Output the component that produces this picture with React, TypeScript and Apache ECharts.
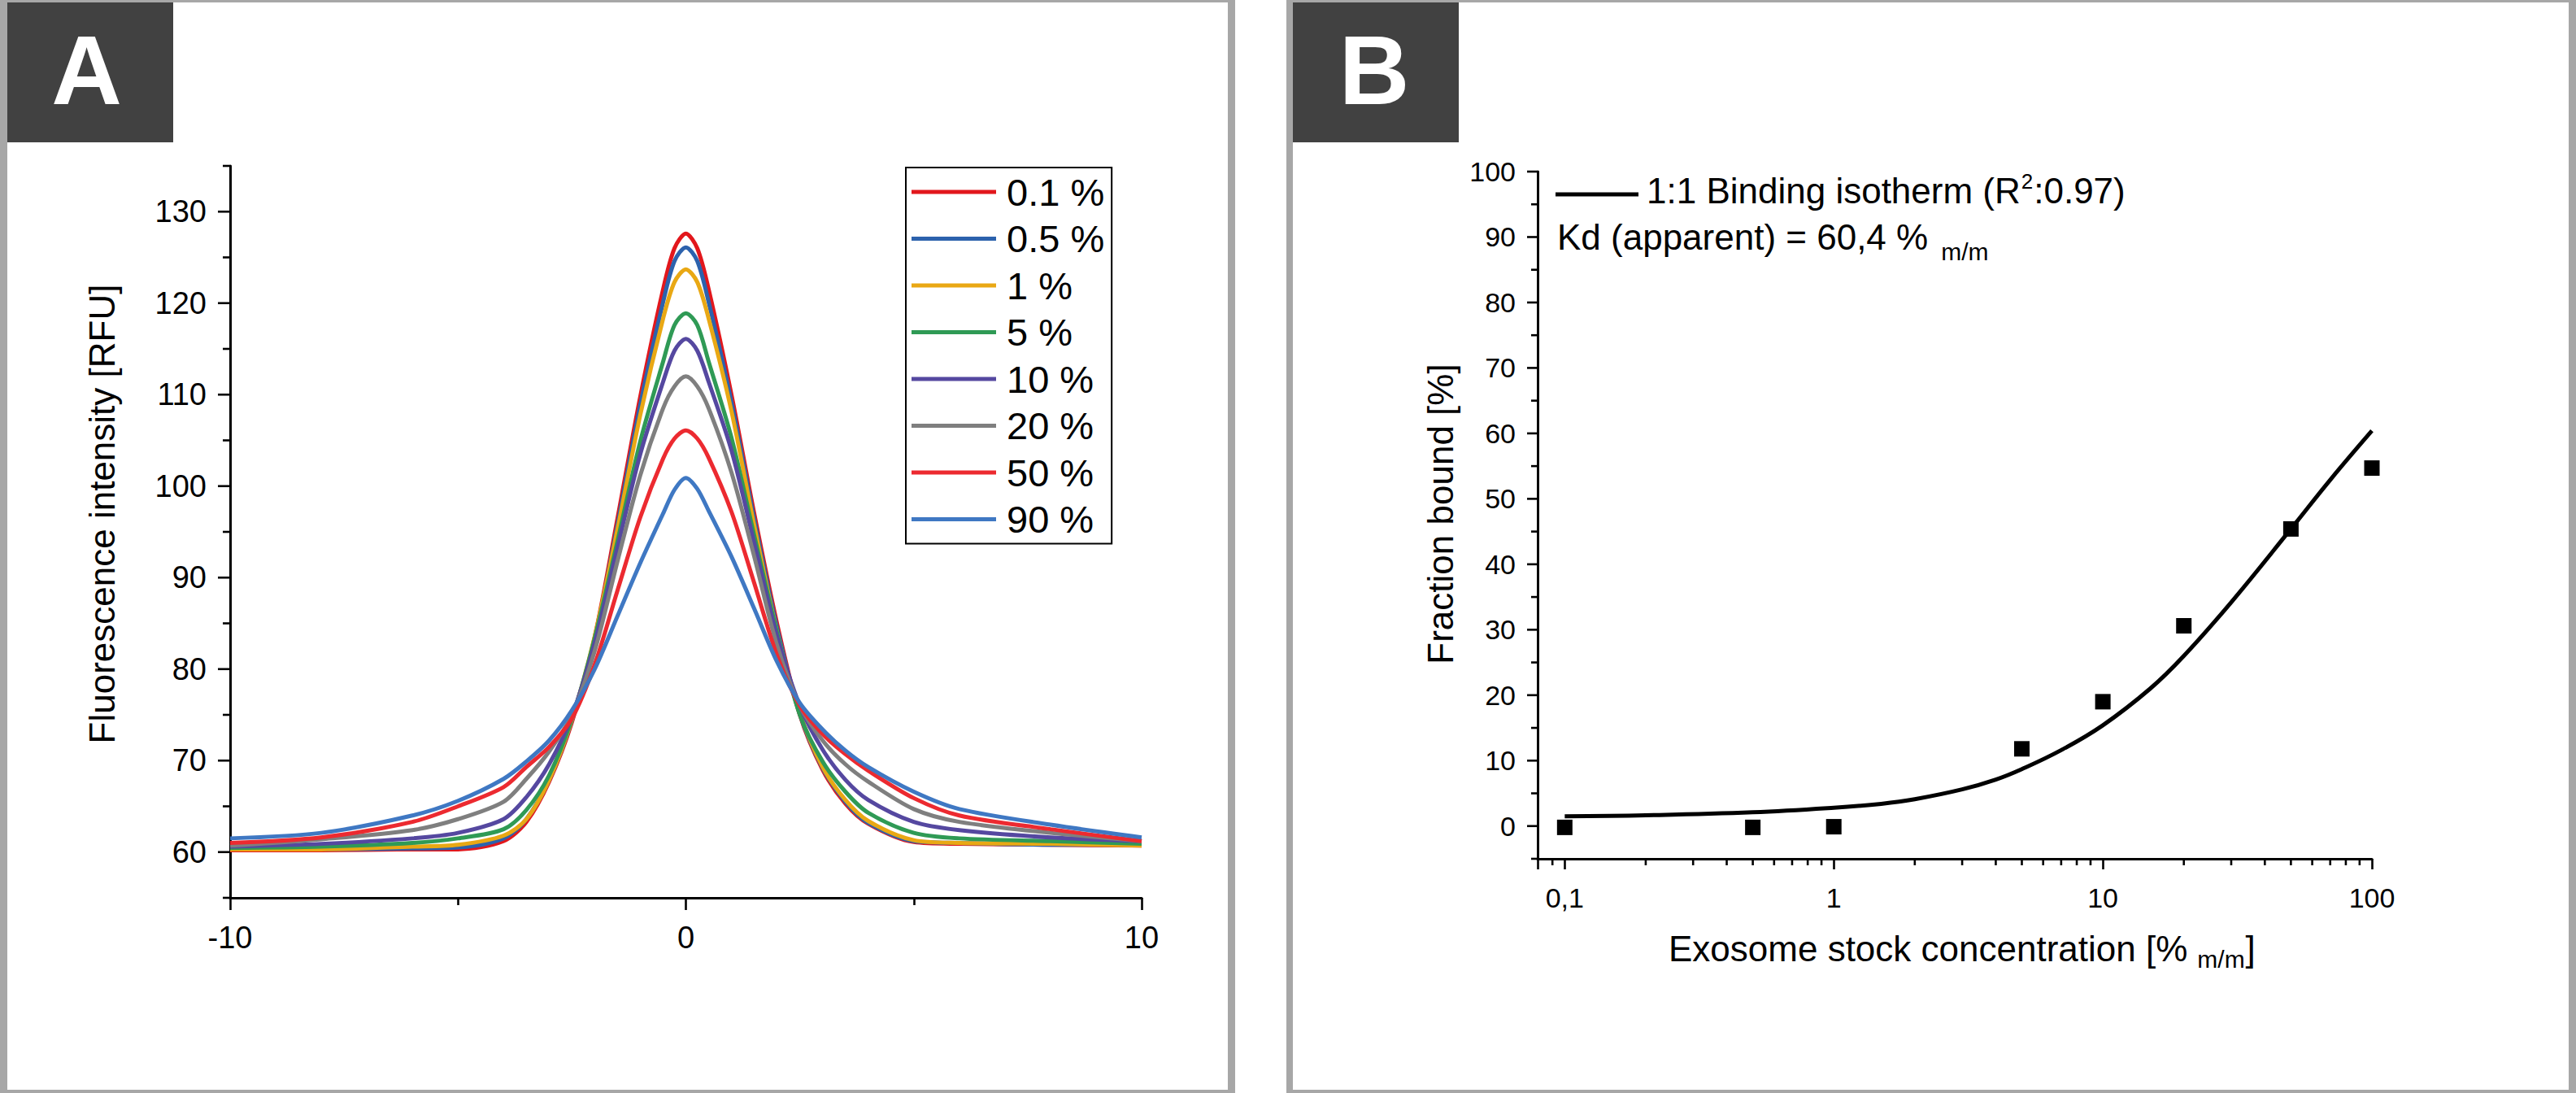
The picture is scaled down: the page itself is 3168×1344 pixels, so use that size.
import React, { useEffect, useRef } from "react";
import * as echarts from "echarts";

const FONT = '"Liberation Sans", Arial, Helvetica, sans-serif';

// ---------- Panel A: fluorescence traces ----------
const positionA = [-10, -8, -6, -5, -4, -3.5, -3, -2.5, -2, -1.5, -1, -0.5, -0.25, 0, 0.25, 0.5, 1, 1.5, 2, 2.5, 3, 3.5, 4, 5, 6, 8, 10];
const trace01 = [60.2, 60.2, 60.3, 60.3, 61.2, 63.3, 67.7, 74.2, 83.5, 96.5, 109.8, 121.5, 126.0, 127.6, 126.0, 121.5, 110.0, 97.0, 85.0, 75.0, 69.0, 65.3, 63.1, 61.1, 60.9, 60.8, 60.7];
const trace05 = [60.3, 60.3, 60.4, 60.5, 61.5, 63.6, 67.9, 74.4, 83.3, 95.8, 108.9, 120.1, 124.6, 126.1, 124.6, 120.1, 109.2, 96.4, 84.5, 75.1, 69.2, 65.5, 63.2, 61.2, 61.0, 60.8, 60.8];
const trace1 = [60.3, 60.3, 60.6, 60.8, 61.8, 63.6, 67.9, 74.5, 83.6, 95.3, 107.8, 118.3, 122.3, 123.7, 122.3, 118.3, 108.2, 95.7, 84.0, 75.2, 69.3, 65.7, 63.4, 61.3, 61.0, 60.9, 60.7];
const trace5 = [60.45, 60.6, 61.0, 61.5, 62.5, 64.6, 68.4, 74.6, 83.4, 94.0, 104.9, 113.6, 117.6, 118.9, 117.6, 113.6, 105.3, 94.6, 84.0, 75.0, 69.9, 66.6, 64.3, 62.1, 61.5, 61.2, 60.9];
const trace10 = [60.6, 60.9, 61.5, 62.1, 63.6, 66.0, 69.6, 74.9, 82.9, 93.3, 103.5, 111.4, 114.8, 116.1, 114.8, 111.4, 103.9, 93.8, 83.6, 76.0, 71.2, 67.9, 65.7, 63.3, 62.4, 61.6, 61.2];
const trace20 = [60.7, 61.4, 62.4, 63.6, 65.5, 68.0, 71.0, 75.0, 82.0, 91.8, 101.2, 108.5, 110.9, 112.0, 110.9, 108.5, 101.5, 92.3, 82.6, 76.0, 72.2, 69.6, 67.7, 64.7, 63.3, 62.1, 61.2];
const trace50 = [61.0, 61.6, 63.3, 65.0, 67.1, 69.3, 71.5, 74.6, 80.5, 88.6, 96.6, 103.0, 105.2, 106.1, 105.2, 103.1, 97.2, 89.4, 81.5, 76.0, 72.9, 70.7, 68.9, 65.9, 64.0, 62.5, 61.2];
const trace90 = [61.5, 62.1, 64.0, 65.6, 68.0, 69.9, 72.2, 75.5, 80.0, 85.8, 91.6, 97.0, 99.6, 100.9, 99.7, 97.3, 92.3, 86.6, 80.8, 76.3, 73.4, 71.1, 69.3, 66.6, 64.7, 63.0, 61.6];
const legendNamesA = ["0.1 %", "0.5 %", "1 %", "5 %", "10 %", "20 %", "50 %", "90 %"];
const tracesA = [trace01, trace05, trace1, trace5, trace10, trace20, trace50, trace90];
const colorsA = ["#e2171c", "#2c62ad", "#e9a814", "#2f9a55", "#5548a0", "#7f7f7f", "#ec2a30", "#3f78c3"];
const yMajorTicksA = [60, 70, 80, 90, 100, 110, 120, 130];
const yMinorTicksA = [55, 65, 75, 85, 95, 105, 115, 125, 135];

// ---------- Panel B: binding isotherm ----------
const concB = [0.1, 0.5, 1, 5, 10, 20, 50, 100];
const boundB = [-0.2, -0.2, -0.1, 11.8, 19.0, 30.6, 45.4, 54.7];
const fitConcB = [0.1, 0.2, 0.5, 1, 1.5, 2, 3, 4, 5, 7, 10, 15, 20, 30, 50, 70, 100];
const fitBoundB = [1.5, 1.65, 2.1, 2.8, 3.4, 4.1, 5.6, 7.1, 8.7, 11.6, 15.4, 21.0, 26.0, 34.2, 45.4, 52.9, 60.4];
const yMajorTicksB = [0, 10, 20, 30, 40, 50, 60, 70, 80, 90, 100];
const yMinorTicksB = [-5, 5, 15, 25, 35, 45, 55, 65, 75, 85, 95];
const xMinorTicksB = [0.09, 0.2, 0.3, 0.4, 0.5, 0.6, 0.7, 0.8, 0.9, 2, 3, 4, 5, 6, 7, 8, 9, 20, 30, 40, 50, 60, 70, 80, 90];

const X_MIN_A = -10;
const X_MIN_B = 0.0793;
const Y_MIN_B = -5;

let measureCtx: CanvasRenderingContext2D | null = null;
function tw(text: string, size: number): number {
  if (!measureCtx) measureCtx = document.createElement("canvas").getContext("2d");
  if (!measureCtx) return text.length * size * 0.55;
  measureCtx.font = `${size}px "Liberation Sans", Arial, sans-serif`;
  return measureCtx.measureText(text).width;
}
// y for a middle-aligned text so that its baseline lands on `baseline`
const midY = (baseline: number, size: number) => baseline - 0.3465 * size;

function tickSeries(xIndex: number, yIndex: number, data: number[][], dir: "left" | "down") {
  return {
    type: "custom",
    xAxisIndex: xIndex,
    yAxisIndex: yIndex,
    silent: true,
    clip: false,
    z: 5,
    data,
    renderItem: (_p: any, api: any) => {
      const pt = api.coord([api.value(0), api.value(1)]);
      const len = api.value(2);
      const shape =
        dir === "left"
          ? { x1: pt[0] - len, y1: pt[1], x2: pt[0], y2: pt[1] }
          : { x1: pt[0], y1: pt[1], x2: pt[0], y2: pt[1] + len };
      return { type: "line", shape, style: { stroke: "#000", lineWidth: 2.6 } };
    },
  };
}

function txt(text: string, x: number, y: number, size: number, extra: any = {}) {
  return {
    type: "text",
    x,
    y,
    z: 50,
    silent: true,
    ...extra,
    style: {
      text,
      fill: "#000",
      fontSize: size,
      fontFamily: FONT,
      align: "left",
      verticalAlign: "middle",
      ...(extra.style || {}),
    },
  };
}

export default function App() {
  const ref = useRef<HTMLDivElement>(null);

  useEffect(() => {
    if (!ref.current) return;
    const chart = echarts.init(ref.current, undefined, { renderer: "svg" });

    const axisLineStyle = { color: "#000", width: 3 };
    const labelStyleA = { color: "#000", fontSize: 38, fontFamily: FONT };
    const labelStyleB = { color: "#000", fontSize: 34, fontFamily: FONT };

    // annotation pieces in panel B
    const l1 = "1:1 Binding isotherm (R";
    const l1x = 2025;
    const supX = l1x + tw(l1, 44) + 1;
    const l3x = supX + tw("2", 26) + 1;
    const kd = "Kd (apparent) = 60,4 %";
    const kdx = 1915;
    const kdSubX = kdx + tw(kd, 44) + 16;
    const xt = "Exosome stock concentration [%";
    const xtx = 2052;
    const xtSubX = xtx + tw(xt, 44) + 12;
    const xtEndX = xtSubX + tw("m/m", 30) + 1;

    const option: any = {
      animation: false,
      backgroundColor: "transparent",
      textStyle: { fontFamily: FONT },
      grid: [
        { left: 283, top: 204, width: 1121, height: 900 },
        { left: 1891, top: 211, width: 1026, height: 845 },
      ],
      xAxis: [
        {
          gridIndex: 0,
          type: "value",
          min: -10,
          max: 10,
          interval: 10,
          axisLine: { onZero: false, lineStyle: axisLineStyle },
          axisTick: { show: true, length: 15, lineStyle: { color: "#000", width: 2.6 } },
          minorTick: { show: true, splitNumber: 2, length: 9, lineStyle: { color: "#000", width: 2.6 } },
          splitLine: { show: false },
          minorSplitLine: { show: false },
          axisLabel: { ...labelStyleA, margin: 30 },
        },
        {
          gridIndex: 1,
          type: "log",
          logBase: 10,
          min: X_MIN_B,
          max: 100,
          axisLine: { onZero: false, lineStyle: axisLineStyle },
          axisTick: { show: true, length: 13, lineStyle: { color: "#000", width: 2.6 } },
          splitLine: { show: false },
          axisLabel: {
            ...labelStyleB,
            margin: 31,
            formatter: (v: number) => {
              const lg = Math.log10(v);
              if (Math.abs(lg - Math.round(lg)) > 1e-6 || v < 0.099) return "";
              return v < 0.5 ? "0,1" : String(Math.round(v));
            },
          },
        },
      ],
      yAxis: [
        {
          gridIndex: 0,
          type: "value",
          min: 55,
          max: 135,
          interval: 5,
          axisLine: { show: true, onZero: false, lineStyle: axisLineStyle },
          axisTick: { show: false },
          splitLine: { show: false },
          axisLabel: {
            ...labelStyleA,
            margin: 29,
            formatter: (v: number) => (v % 10 === 0 ? String(v) : ""),
          },
        },
        {
          gridIndex: 1,
          type: "value",
          min: -5,
          max: 100,
          interval: 5,
          axisLine: { show: true, onZero: false, lineStyle: axisLineStyle },
          axisTick: { show: false },
          splitLine: { show: false },
          axisLabel: {
            ...labelStyleB,
            margin: 27,
            formatter: (v: number) => (v % 10 === 0 ? String(v) : ""),
          },
        },
      ],
      legend: [
        {
          data: legendNamesA,
          orient: "vertical",
          left: 1114,
          top: 206,
          padding: [5, 9, 5, 7],
          itemGap: 7.5,
          itemWidth: 104,
          itemHeight: 5,
          icon: "rect",
          borderColor: "#000",
          borderWidth: 2,
          borderRadius: 0,
          backgroundColor: "#fff",
          selectedMode: false,
          textStyle: { color: "#000", fontSize: 47, lineHeight: 50, fontFamily: FONT, padding: [0, 0, 0, 8] },
        },
      ],
      series: [
        ...tracesA.map((tr, i) => ({
          name: legendNamesA[i],
          type: "line",
          xAxisIndex: 0,
          yAxisIndex: 0,
          data: positionA.map((x, j) => [x, tr[j]]),
          showSymbol: false,
          symbol: "none",
          smooth: 0.3,
          silent: true,
          z: 2 + i * 0.01,
          lineStyle: { color: colorsA[i], width: 5 },
          itemStyle: { color: colorsA[i] },
        })),
        tickSeries(0, 0, yMajorTicksA.map((v) => [X_MIN_A, v, 15]).concat(yMinorTicksA.map((v) => [X_MIN_A, v, 9])), "left"),
        {
          name: "fit",
          type: "line",
          xAxisIndex: 1,
          yAxisIndex: 1,
          data: fitConcB.map((c, i) => [c, fitBoundB[i]]),
          showSymbol: false,
          symbol: "none",
          smooth: 0.4,
          silent: true,
          lineStyle: { color: "#000", width: 5 },
        },
        {
          name: "data",
          type: "scatter",
          xAxisIndex: 1,
          yAxisIndex: 1,
          data: concB.map((c, i) => [c, boundB[i]]),
          symbol: "rect",
          symbolSize: 19,
          silent: true,
          itemStyle: { color: "#000", opacity: 1 },
          z: 4,
        },
        tickSeries(1, 1, yMajorTicksB.map((v) => [X_MIN_B, v, 13]).concat(yMinorTicksB.map((v) => [X_MIN_B, v, 8])), "left"),
        tickSeries(1, 1, xMinorTicksB.map((v) => [v, Y_MIN_B, 8]), "down"),
      ],
      graphic: {
        elements: [
          { type: "rect", z: -10, silent: true, shape: { x: 0, y: 0, width: 1519, height: 1344 }, style: { fill: "#a7a7a7" } },
          { type: "rect", z: -9, silent: true, shape: { x: 9, y: 3, width: 1501, height: 1337 }, style: { fill: "#fff" } },
          { type: "rect", z: -10, silent: true, shape: { x: 1582, y: 0, width: 1586, height: 1344 }, style: { fill: "#a7a7a7" } },
          { type: "rect", z: -9, silent: true, shape: { x: 1590, y: 3, width: 1569, height: 1337 }, style: { fill: "#fff" } },
          { type: "rect", z: -8, silent: true, shape: { x: 9, y: 3, width: 204, height: 172 }, style: { fill: "#414141" } },
          { type: "rect", z: -8, silent: true, shape: { x: 1590, y: 3, width: 204, height: 172 }, style: { fill: "#414141" } },
          txt("A", 106.5, 86, 120, { style: { fill: "#fff", fontWeight: "bold", align: "center" } }),
          txt("B", 1690, 86, 120, { style: { fill: "#fff", fontWeight: "bold", align: "center" } }),
          // axis titles
          txt("Fluorescence intensity [RFU]", 125, 632, 44, { rotation: Math.PI / 2, style: { align: "center" } }),
          txt("Fraction bound [%]", 1771, 632, 44, { rotation: Math.PI / 2, style: { align: "center" } }),
          txt(xt, xtx, midY(1181.7, 44), 44),
          txt("m/m", xtSubX, midY(1190, 30), 30),
          txt("]", xtEndX, midY(1181.7, 44), 44),
          // panel B annotation
          { type: "line", z: 50, silent: true, shape: { x1: 1913, y1: 239, x2: 2015, y2: 239 }, style: { stroke: "#000", lineWidth: 5 } },
          txt(l1, l1x, midY(250, 44), 44),
          txt("2", supX, midY(232, 26), 26),
          txt(":0.97)", l3x, midY(250, 44), 44),
          txt(kd, kdx, midY(306.7, 44), 44),
          txt("m/m", kdSubX, midY(320, 30), 30),
        ],
      },
    };

    chart.setOption(option);
    return () => {
      chart.dispose();
    };
  }, []);

  return (
    <div
      ref={ref}
      style={{ position: "fixed", left: 0, top: 0, width: 3168, height: 1344, background: "#fff" }}
    />
  );
}
